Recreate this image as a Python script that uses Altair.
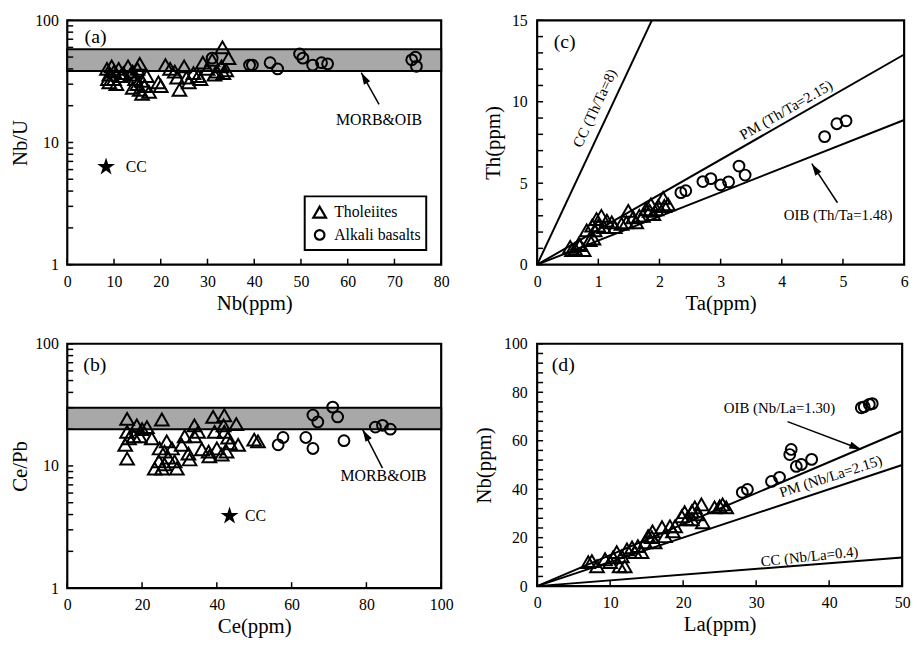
import math
import altair as alt
import pandas as pd

FONT = "Liberation Serif"
GROUPS = ["Tholeiites", "Alkali basalts"]

# ---------------- data ----------------
# (a) Nb vs Nb/U
a_tho_nb = [8.5, 9, 9.5, 10, 10, 10.5, 11, 11.5, 9, 12, 8.7,
            13, 14, 14.5, 15, 15.5, 16, 16.5, 17, 15, 14, 16, 17.5, 13.5, 15.5,
            19.5, 20, 21, 22, 23, 23.5, 24, 25, 25.5, 26, 27, 28, 29, 30, 31, 32,
            33.2, 33.4, 34.5, 33, 31.5, 34, 28.5]
a_tho_nbu = [40, 36, 42, 38, 33, 30, 40, 35, 31, 37, 33,
             42, 38, 33, 30, 27, 25, 29, 35, 40, 28, 32, 26, 36, 44,
             31, 29, 43, 40, 38, 34, 27, 42, 34, 31, 37, 35, 45, 40, 47.5, 38,
             60, 37, 49, 42, 36, 39, 33]
a_alk_nb = [31, 39, 39.6, 43.4, 45, 49.7, 50.4, 52.5, 54.4, 55.7, 73.7, 74.5, 74.7]
a_alk_nbu = [49, 43, 43, 45, 40, 53, 49, 43, 45, 44, 47.5, 50, 42]
a_band = [38.5, 58]          # MORB & OIB Nb/U range
a_cc = [8.3, 6.3]            # continental crust (Nb, Nb/U)

# (b) Ce vs Ce/Pb
b_tho_ce = [16, 16, 15.5, 16, 16.5, 18.6, 17.8, 19.4, 21.3, 20, 22.6, 25.3, 24.7, 24.5,
            23.4, 26, 27, 26, 28, 28.7, 26.6, 29.3, 25.3, 31.4, 30.6, 32.4, 32.7, 34,
            34, 35, 36, 37.8, 38, 39, 39.4, 40, 41.3, 42, 41.8, 42, 43, 43.5, 42.6,
            45.2, 45.7, 50, 51]
b_tho_cepb = [24.3, 19, 14.9, 11.5, 16.8, 21.5, 17.5, 17.5, 20.8, 20, 16.8, 24, 13.9,
              10.9, 9.5, 13.1, 11.7, 10.3, 13.9, 10.9, 15.9, 9.5, 9.5, 17.5, 14.9, 12.6,
              11.3, 21.5, 17.5, 19, 13.7, 13.1, 12, 25.2, 19, 13.9, 12.4, 26, 21.5, 19,
              17.1, 15.3, 13.1, 22, 14.9, 16.4, 15.9]
b_alk_ce = [56.4, 57.7, 63.8, 65.7, 65.7, 67, 71, 72.3, 74, 82.4, 84.3, 86.4]
b_alk_cepb = [14.9, 17.1, 17.1, 13.9, 26.1, 22.9, 30.3, 25.2, 16.1, 20.8, 21.5, 20]
b_band = [20, 30]
b_cc = [43.4, 3.9]

# (c) Ta vs Th
c_tho_ta = [0.54, 0.62, 0.7, 0.76, 0.81, 0.9, 0.97, 1.0, 0.92, 0.86, 1.22, 1.27, 1.49,
            1.46, 1.62, 1.67, 1.78, 1.86, 1.9, 1.98, 2.06, 2.08, 2.14, 1.73, 1.57, 1.38,
            1.14, 1.09, 1.05, 0.94, 0.68, 0.57, 1.95, 1.84]
c_tho_th = [1.09, 0.97, 1.2, 0.9, 2.1, 2.4, 2.8, 2.4, 1.6, 1.5, 2.6, 2.3, 3.3, 2.6, 2.6,
            3.0, 3.4, 3.7, 3.1, 3.6, 4.1, 3.6, 3.7, 3.0, 2.9, 2.5, 2.7, 2.3, 3.0, 2.1,
            1.27, 0.9, 3.4, 3.3]
c_alk_ta = [2.35, 2.43, 2.71, 2.84, 3.0, 3.13, 3.3, 3.4, 4.7, 4.9, 5.05]
c_alk_th = [4.42, 4.54, 5.1, 5.28, 4.9, 5.08, 6.05, 5.5, 7.86, 8.65, 8.83]
c_ratios = [8, 2.15, 1.48]   # CC, PM, OIB Th/Ta

# (d) La vs Nb
d_tho_la = [7, 7.5, 8.2, 9.3, 10, 10.9, 11.3, 12, 11.6, 12.3, 13, 13.4, 14.3, 14.8,
            15.2, 15.8, 16.1, 17.1, 17.5, 18.2, 18.9, 18.6, 20.2, 20.5, 21.2, 21.6, 22,
            22.5, 21.2, 22.7, 24.3, 25, 25.4, 25.9, 19.8, 15.7, 13.8, 10.4]
d_tho_nb = [9.9, 10.3, 8.2, 11.1, 9.9, 14, 8.2, 8.2, 12.3, 15.2, 16, 14, 14, 18.1, 20.6,
            22.6, 18.1, 24.3, 20.6, 24.7, 24.7, 22.6, 30.5, 27.6, 30.9, 32.5, 29.6, 33.7,
            27.6, 26.3, 32.5, 32.9, 33.7, 32.5, 28.8, 20.2, 16.5, 11.9]
d_alk_la = [28.1, 28.8, 32.1, 33.2, 34.6, 34.8, 35.5, 36.2, 37.6, 44.4, 44.8, 45.5, 45.9]
d_alk_nb = [38.7, 39.9, 43.2, 44.9, 54.3, 56.4, 49.4, 50.2, 52.3, 73.6, 74, 75, 75.3]
d_slopes = [1.28, 1.0, 0.236]  # lines as drawn: OIB, PM, CC

# tick positions
LOG_TICKS = [1, 2, 3, 4, 5, 6, 7, 8, 9, 10, 20, 30, 40, 50, 60, 70, 80, 90, 100]
a_xticks = [0, 10, 20, 30, 40, 50, 60, 70, 80]
b_xticks = [0, 20, 40, 60, 80, 100]
c_xticks = [0, 1, 2, 3, 4, 5, 6]
c_yticks = list(range(0, 16))
d_xticks = [0, 10, 20, 30, 40, 50]
d_yticks = list(range(0, 101, 4))

TICK_LEN = 6
ARROW = "M0,0L-0.45,1.5L0.45,1.5Z"
STAR = ("M0,-1L0.2245,-0.309L0.951,-0.309L0.363,0.118L0.588,0.809L0,0.382"
        "L-0.588,0.809L-0.363,0.118L-0.951,-0.309L-0.2245,-0.309Z")
SIZES = {GROUPS[0]: 190, GROUPS[1]: 120}
SHAPES = {GROUPS[0]: "triangle-up", GROUPS[1]: "circle"}


def pts(xt, yt, xa, ya):
    g = [GROUPS[0]] * len(xt) + [GROUPS[1]] * len(xa)
    return pd.DataFrame({"x": xt + xa, "y": yt + ya, "group": g, "kind": g})


def label_expr(vals):
    cond = " || ".join("datum.value == %s" % v for v in vals)
    return "(%s) ? datum.label : ''" % cond


AX_STYLE = dict(domain=False, grid=False, ticks=False, zindex=1,
                labelFlush=False, labelOverlap=False, labelFont=FONT, labelFontSize=16,
                labelColor="black", titleFont=FONT, titleFontSize=21, titleColor="black",
                titleFontWeight="normal")


def axis_x(title, values, labels=None):
    kw = dict(title=title, values=values, orient="bottom", labelPadding=9, titlePadding=3, **AX_STYLE)
    if labels is not None:
        kw["labelExpr"] = label_expr(labels)
    return alt.Axis(**kw)


def axis_y(title, values, labels=None, lp=9, tp=4):
    kw = dict(title=title, values=values, orient="left", labelPadding=lp, titlePadding=tp, **AX_STYLE)
    if labels is not None:
        kw["labelExpr"] = label_expr(labels)
    return alt.Axis(**kw)


class Panel:
    def __init__(self, xdom, ydom, ylog, xa, ya, w, h):
        self.xdom, self.ydom, self.ylog, self.w, self.h = xdom, ydom, ylog, w, h
        self.xs = alt.Scale(domain=xdom, nice=False, zero=False)
        if ylog:
            self.ys = alt.Scale(type="log", domain=ydom, nice=False)
        else:
            self.ys = alt.Scale(domain=ydom, nice=False, zero=False)
        self.xa, self.ya = xa, ya
        self.layers = []

    def X(self, f="x"):
        return alt.X(f + ":Q", scale=self.xs, axis=self.xa)

    def Y(self, f="y"):
        return alt.Y(f + ":Q", scale=self.ys, axis=self.ya)

    def ticks(self, xt, yt):
        # inward tick marks, TICK_LEN pixels long, expressed in data units
        x0, x1 = self.xdom
        y0, y1 = self.ydom
        dx = TICK_LEN * (x1 - x0) / self.w
        if self.ylog:
            ytop = y0 * 10 ** (TICK_LEN * math.log10(y1 / y0) / self.h)
        else:
            ytop = y0 + TICK_LEN * (y1 - y0) / self.h
        tx = pd.DataFrame({"x": xt, "xe": xt, "y": [y0] * len(xt), "ye": [ytop] * len(xt)})
        ty = pd.DataFrame({"x": [x0] * len(yt), "xe": [x0 + dx] * len(yt), "y": yt, "ye": yt})
        for df in (tx, ty):
            self.layers.append(alt.Chart(df).mark_rule(color="black", strokeWidth=1.5)
                               .encode(x=self.X(), y=self.Y(), x2="xe:Q", y2="ye:Q"))

    def band(self, x0, x1, lo, hi, fill="#a8a8a8"):
        df = pd.DataFrame({"x": [x0], "xe": [x1], "y": [lo], "ye": [hi]})
        self.layers.append(alt.Chart(df).mark_rect(fill=fill, stroke="black", strokeWidth=2)
                           .encode(x=self.X(), x2="xe:Q", y=self.Y(), y2="ye:Q"))

    def rule(self, x0, y0, x1, y1, w=2):
        df = pd.DataFrame({"x": [x0], "y": [y0], "xe": [x1], "ye": [y1]})
        self.layers.append(alt.Chart(df).mark_rule(color="black", strokeWidth=w)
                           .encode(x=self.X(), y=self.Y(), x2="xe:Q", y2="ye:Q"))

    def points(self, df):
        self.layers.append(
            alt.Chart(df).mark_point(filled=False, strokeWidth=2, color="black", opacity=1)
            .encode(x=self.X(), y=self.Y(),
                    shape=alt.Shape("group:N", scale=alt.Scale(domain=GROUPS, range=[SHAPES[g] for g in GROUPS]),
                                    legend=None),
                    size=alt.Size("kind:N", scale=alt.Scale(domain=GROUPS, range=[SIZES[g] for g in GROUPS]),
                                  legend=None)))

    def symbol(self, group, x, y):
        df = pd.DataFrame({"x": [x], "y": [y]})
        self.layers.append(alt.Chart(df).mark_point(shape=SHAPES[group], filled=False, strokeWidth=2.2,
                                                    color="black", opacity=1, size=SIZES[group] - 25)
                           .encode(x=self.X(), y=self.Y()))

    def star(self, x, y):
        df = pd.DataFrame({"x": [x], "y": [y]})
        self.layers.append(alt.Chart(df).mark_point(shape=STAR, filled=True, color="black",
                                                    opacity=1, size=360)
                           .encode(x=self.X(), y=self.Y()))

    def text(self, t, x, y, size=16, angle=0, align="center"):
        df = pd.DataFrame({"x": [x], "y": [y], "t": [t]})
        self.layers.append(alt.Chart(df).mark_text(font=FONT, fontSize=size, angle=angle, align=align,
                                                   baseline="middle", color="black")
                           .encode(x=self.X(), y=self.Y(), text="t:N"))

    def arrow(self, x0, y0, x1, y1, angle):
        self.rule(x0, y0, x1, y1, w=1.5)
        df = pd.DataFrame({"x": [x1], "y": [y1]})
        self.layers.append(alt.Chart(df).mark_point(shape=ARROW, filled=True, color="black", opacity=1,
                                                    size=260, angle=angle)
                           .encode(x=self.X(), y=self.Y()))

    def chart(self):
        return alt.layer(*self.layers).properties(width=self.w, height=self.h)


# ---------------- panel (a) ----------------
pa = Panel([0, 80], [1, 100], True,
           axis_x("Nb(ppm)", a_xticks),
           axis_y("Nb/U", LOG_TICKS, labels=[1, 10, 100], lp=9, tp=4), 378, 247)
pa.band(0, 80, a_band[0], a_band[1])
pa.ticks(a_xticks, LOG_TICKS)
pa.points(pts(a_tho_nb, a_tho_nbu, a_alk_nb, a_alk_nbu))
pa.star(a_cc[0], a_cc[1])
pa.text("CC", 12.5, 6.3, align="left")
pa.text("MORB&OIB", 66.7, 15.2)
pa.arrow(66.7, 20.5, 62.9, 37.3, 331)
pa.text("(a)", 3.7, 73, size=20, align="left")
# legend box
pa.band(50.8, 76.8, 1.32, 3.62, fill="white")
pa.symbol(GROUPS[0], 54.0, 2.69)
pa.symbol(GROUPS[1], 54.0, 1.75)
pa.text(GROUPS[0], 57.1, 2.69, align="left")
pa.text(GROUPS[1], 57.1, 1.75, align="left")
chart_a = pa.chart()

# ---------------- panel (b) ----------------
pb = Panel([0, 100], [1, 100], True,
           axis_x("Ce(ppm)", b_xticks),
           axis_y("Ce/Pb", LOG_TICKS, labels=[1, 10, 100], lp=9, tp=4), 378, 247)
pb.band(0, 100, b_band[0], b_band[1])
pb.ticks(b_xticks, LOG_TICKS)
pb.points(pts(b_tho_ce, b_tho_cepb, b_alk_ce, b_alk_cepb))
pb.star(b_cc[0], b_cc[1])
pb.text("CC", 47.5, 3.9, align="left")
pb.text("MORB&OIB", 84.6, 8.2)
pb.arrow(84.3, 9.6, 79.0, 19.8, 330)
pb.text("(b)", 4.3, 67, size=20, align="left")
chart_b = pb.chart()

# ---------------- panel (c) ----------------
pc = Panel([0, 6], [0, 15], False,
           axis_x("Ta(ppm)", c_xticks),
           axis_y("Th(ppm)", c_yticks, labels=[0, 5, 10, 15], lp=10, tp=8), 371, 247)
pc.ticks(c_xticks, c_yticks)
for r in c_ratios:
    xe = min(6, 15 / r)
    pc.rule(0, 0, xe, r * xe)
pc.points(pts(c_tho_ta, c_tho_th, c_alk_ta, c_alk_th))
pc.text("CC (Th/Ta=8)", 0.94, 9.6, size=15, angle=295)
pc.text("PM (Th/Ta=2.15)", 4.07, 9.5, size=15, angle=330)
pc.text("OIB (Th/Ta=1.48)", 4.92, 3.02, size=15)
pc.arrow(4.91, 3.8, 4.49, 6.2, 327)
pc.text("(c)", 0.27, 13.67, size=20, align="left")
chart_c = pc.chart()

# ---------------- panel (d) ----------------
pd_ = Panel([0, 50], [0, 100], False,
            axis_x("La(ppm)", d_xticks),
            axis_y("Nb(ppm)", d_yticks, labels=[0, 20, 40, 60, 80, 100], lp=10, tp=9), 369, 245)
pd_.ticks(d_xticks, d_yticks)
for s in d_slopes:
    pd_.rule(0, 0, 50, s * 50)
pd_.points(pts(d_tho_la, d_tho_nb, d_alk_la, d_alk_nb))
pd_.text("OIB (Nb/La=1.30)", 33.2, 73.3, size=15)
pd_.arrow(34.3, 67.9, 44.4, 56.4, 111)
pd_.text("PM (Nb/La=2.15)", 40.2, 45.3, size=15, angle=342)
pd_.text("CC (Nb/La=0.4)", 37.3, 12.3, size=15, angle=354)
pd_.text("(d)", 2.0, 91.4, size=20, align="left")
chart_d = pd_.chart()

chart = (alt.concat(chart_a, chart_c, chart_b, chart_d, columns=2,
                    spacing=alt.RowColnumber(row=80, column=97), bounds="flush")
         .resolve_scale(shape="independent", size="independent")
         .properties(padding={"left": 8, "top": 7, "right": 5, "bottom": 5}, background="white")
         .configure_view(stroke="black", strokeWidth=2.2)
         .configure_axis(labelFont=FONT, titleFont=FONT, labelFontSize=16, titleFontSize=21,
                         labelColor="black", titleColor="black", titleFontWeight="normal"))

chart.save("out.html", embed_options={"renderer": "svg", "actions": False})
